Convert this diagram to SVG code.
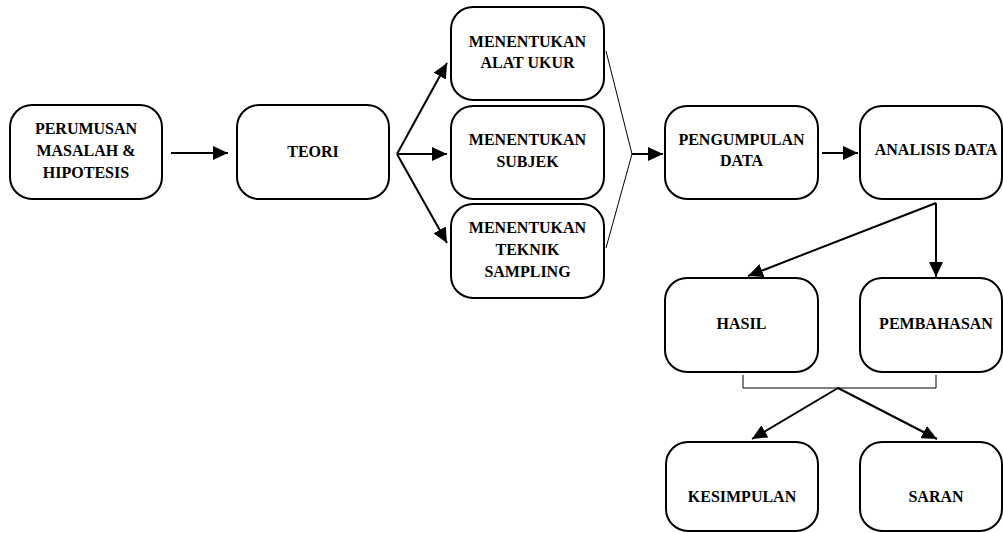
<svg xmlns="http://www.w3.org/2000/svg" width="1003" height="533" viewBox="0 0 1003 533">
<style>
.box{fill:#fff;stroke:#000;stroke-width:2}
.t{font-family:'Liberation Serif','Times New Roman',Tinos,'DejaVu Serif',serif;font-weight:bold;font-size:16px;text-anchor:middle;fill:#000}
.c{stroke:#000;stroke-width:2;fill:none}
.thin{stroke:#000;stroke-width:1;fill:none}
</style>
<defs>
<marker id="ah" markerUnits="userSpaceOnUse" markerWidth="15" markerHeight="14" refX="15" refY="7" orient="auto">
<path d="M0,0 L15,7 L0,14 z" fill="#000"/>
</marker>
</defs>
<rect width="1003" height="533" fill="#fff"/>
<g id="connectors">
<line class="c" x1="171" y1="153" x2="228" y2="153" marker-end="url(#ah)"/>
<line class="c" x1="397" y1="154" x2="447" y2="63" marker-end="url(#ah)"/>
<line class="c" x1="397" y1="154" x2="447" y2="154" marker-end="url(#ah)"/>
<line class="c" x1="397" y1="154" x2="447" y2="243" marker-end="url(#ah)"/>
<polyline class="thin" points="606,51 632,154 606,248"/>
<line class="c" x1="632" y1="154" x2="663" y2="154" marker-end="url(#ah)"/>
<line class="c" x1="822" y1="153" x2="858" y2="153" marker-end="url(#ah)"/>
<line class="c" x1="936" y1="203" x2="748" y2="276" marker-end="url(#ah)"/>
<line class="c" x1="936" y1="203" x2="936" y2="277" marker-end="url(#ah)"/>
<polyline class="thin" points="743,375 743,388 936,388 936,375"/>
<line class="c" x1="838" y1="388" x2="752" y2="439" marker-end="url(#ah)"/>
<line class="c" x1="838" y1="388" x2="937" y2="439" marker-end="url(#ah)"/>
</g>
<g id="n1"><rect class="box" x="10" y="105" width="152" height="94" rx="22"/>
<text class="t" x="86" y="134">PERUMUSAN</text><text class="t" x="86" y="156">MASALAH &amp;</text><text class="t" x="86" y="178">HIPOTESIS</text></g>
<g id="n2"><rect class="box" x="237" y="105" width="152" height="94" rx="22"/>
<text class="t" x="313" y="157">TEORI</text></g>
<g id="n3"><rect class="box" x="451" y="7" width="153" height="93" rx="22"/>
<text class="t" x="527.5" y="47">MENENTUKAN</text><text class="t" x="527.5" y="68">ALAT UKUR</text></g>
<g id="n4"><rect class="box" x="451" y="106" width="153" height="93" rx="22"/>
<text class="t" x="527.5" y="145">MENENTUKAN</text><text class="t" x="527.5" y="167">SUBJEK</text></g>
<g id="n5"><rect class="box" x="451" y="204" width="153" height="94" rx="22"/>
<text class="t" x="527.5" y="233">MENENTUKAN</text><text class="t" x="527.5" y="255">TEKNIK</text><text class="t" x="527.5" y="277">SAMPLING</text></g>
<g id="n6"><rect class="box" x="665" y="106" width="153" height="93" rx="22"/>
<text class="t" x="741.5" y="145">PENGUMPULAN</text><text class="t" x="741.5" y="166">DATA</text></g>
<g id="n7"><rect class="box" x="860" y="106" width="142" height="93" rx="22"/>
<text class="t" x="936" y="155">ANALISIS DATA</text></g>
<g id="n8"><rect class="box" x="665" y="278" width="153" height="94" rx="22"/>
<text class="t" x="741.5" y="329">HASIL</text></g>
<g id="n9"><rect class="box" x="860" y="278" width="142" height="94" rx="22"/>
<text class="t" x="936" y="329">PEMBAHASAN</text></g>
<g id="n10"><rect class="box" x="666" y="442" width="152" height="89" rx="22"/>
<text class="t" x="742" y="502">KESIMPULAN</text></g>
<g id="n11"><rect class="box" x="860" y="442" width="142" height="89" rx="22"/>
<text class="t" x="936" y="502">SARAN</text></g>
</svg>
